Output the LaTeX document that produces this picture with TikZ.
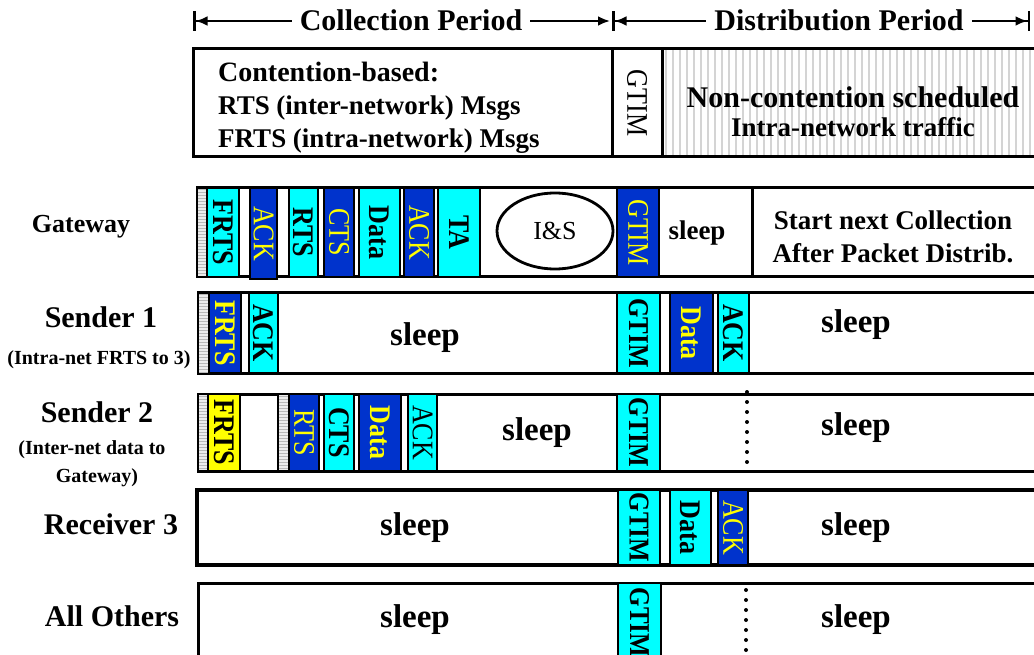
\documentclass[tikz,border=0pt]{standalone}
\usepackage{fontspec}
\setmainfont{Liberation Serif}
\usetikzlibrary{arrows.meta,shapes.geometric,patterns}

\definecolor{slotcyan}{HTML}{00FFFF}
\definecolor{slotblue}{HTML}{0033CC}
\definecolor{slotyellow}{HTML}{FFFF00}
\definecolor{stripegray}{gray}{0.83}

% a framed time slot spanning x1..x2, y1..y2, with its rotated label
% #1 name, #2 cell style, #3 x1, #4 x2, #5 y1, #6 y2, #7 label style, #8 label
\newcommand\slotcell[8]{%
  \node[#2, minimum width={(#4)-(#3)}, minimum height={(#6)-(#5)}] (#1)
    at ({((#3)+(#4))/2},{((#5)+(#6))/2}) {};
  \node[#7] (#1-txt) at (#1.center) {#8};}

% grey preamble strip with fine horizontal lines
\newcommand\hatchstrip[4]{%
  \fill[gray!15] (#1,#3) rectangle (#2,#4);
  \fill[pattern=horizontal lines, pattern color=gray!55] (#1,#3) rectangle (#2,#4);}

\tikzset{
  rowframe/.style={draw, line width=3pt, fill=white},
  cellbase/.style={draw, line width=2.8pt, inner sep=0pt, outer sep=0pt},
  cyancell/.style={cellbase, fill=slotcyan},
  bluecell/.style={cellbase, fill=slotblue},
  yellowcell/.style={cellbase, fill=slotyellow},
  vturn/.style={rotate=-90, yscale=1.15, inner sep=0pt},
  vtext/.style={vturn, font=\fontsize{26}{26}\selectfont\bfseries},
  vtextY/.style={vturn, text=slotyellow, font=\fontsize{26}{26}\selectfont},
  vtextYB/.style={vtext, text=slotyellow},
  vtextR/.style={vturn, font=\fontsize{26}{26}\selectfont},
  gtimtext/.style={vtext, font=\fontsize{25}{25}\selectfont\bfseries},
  sleeptext/.style={anchor=base, inner sep=0pt, font=\fontsize{33}{33}\selectfont\bfseries},
  rowname/.style={anchor=base, inner sep=0pt, font=\fontsize{30}{30}\selectfont\bfseries},
  rownote/.style={anchor=base, inner sep=0pt, font=\fontsize{20}{20}\selectfont\bfseries},
  periodtext/.style={anchor=base, inner xsep=8pt, inner ysep=0pt, font=\fontsize{30}{30}\selectfont\bfseries},
  periodline/.style={line width=2.5pt},
  dotline/.style={line width=4pt, line cap=round, dash pattern=on 0pt off 10pt},
  startbar/.style={{Bar[width=20pt]Latex[length=12pt,width=10pt]}-},
  endtip/.style={-{Latex[length=12pt,width=10pt]}},
  endbar/.style={-{Latex[length=12pt,width=10pt]Bar[width=20pt]}},
}

\begin{document}
\begin{tikzpicture}[x=1pt,y=-1pt]
\useasboundingbox (0,0) rectangle (1034,655);
\fill[white] (0,0) rectangle (1034,655);
\clip (0,0) rectangle (1034,655);

% ---------- period arrows ----------
\coordinate (colL) at (193,21);
\coordinate (colR) at (610,21);
\coordinate (disL) at (612,21);
\coordinate (disR) at (1030,21);
\node[periodtext] (colT) at (411,31) {Collection Period};
\node[periodtext] (disT) at (839,31) {Distribution Period};
\draw[periodline, startbar] (colL) -- (colT.west |- colL);
\draw[periodline, endtip] (colT.east |- colR) -- (colR);
\draw[periodline, startbar] (disL) -- (disT.west |- disL);
\draw[periodline, endbar] (disT.east |- disR) -- (disR);

% ---------- frame structure ----------
\foreach \x in {666,673,...,1034} \draw[stripegray, line width=2.5pt] (\x,50) -- (\x,156);
\draw[line width=3pt] (1045,49) -- (193,49) -- (193,157) -- (1045,157);
\draw[line width=3pt] (612,49) -- (612,157) (662,49) -- (662,157);
\node[anchor=base west, inner sep=0pt, font=\fontsize{28}{28}\selectfont\bfseries] (cbT) at (218,82) {Contention-based:};
\node[anchor=base west, inner sep=0pt, font=\fontsize{27}{27}\selectfont\bfseries] (rtsT) at (218,115) {RTS (inter-network) Msgs};
\node[anchor=base west, inner sep=0pt, font=\fontsize{27}{27}\selectfont\bfseries] (frtsT) at (218,148) {FRTS (intra-network) Msgs};
\node[vturn, font=\fontsize{26}{26}\selectfont] (hdGtim) at (637,103) {GTIM};
\node[anchor=base, inner sep=0pt, font=\fontsize{30}{30}\selectfont\bfseries] (ncT) at (853,108) {Non-contention scheduled};
\node[anchor=base, inner sep=0pt, font=\fontsize{27}{27}\selectfont\bfseries] (itT) at (853,137) {Intra-network traffic};

% ---------- Gateway ----------
\node[anchor=base, inner sep=0pt, font=\fontsize{26}{26}\selectfont\bfseries] (gwName) at (81,233) {Gateway};
\draw[rowframe] (197,188) rectangle (1045,277);
\hatchstrip{198}{207}{189}{276}
\slotcell{gwFrts}{cyancell}{207}{239}{188}{277}{vtext}{FRTS}
\slotcell{gwAck}{bluecell}{250}{277}{188}{279}{vtextY}{ACK}
\slotcell{gwRts}{cyancell}{289}{318}{188}{277}{vtext}{RTS}
\slotcell{gwCts}{bluecell}{324}{354}{188}{277}{vtextY}{CTS}
\slotcell{gwData}{cyancell}{359}{400}{188}{277}{vtext}{Data}
\slotcell{gwAckB}{bluecell}{404}{434}{188}{277}{vtextY}{ACK}
\slotcell{gwTa}{cyancell}{438}{480}{188}{277}{vtext}{TA}
\node[ellipse, draw, line width=2.8pt, minimum width=116pt, minimum height=76pt, inner sep=0pt,
      font=\fontsize{26}{26}\selectfont] (gwIS) at (555,231) {I\&S};
\slotcell{gwGtim}{bluecell}{617}{659}{188}{277}{vtextY}{GTIM}
\node[anchor=base, inner sep=0pt, font=\fontsize{27}{27}\selectfont\bfseries] (gwSleep) at (697,240) {sleep};
\draw[line width=3pt] (752,188) -- (752,277);
\node[anchor=base, inner sep=0pt, font=\fontsize{27}{27}\selectfont\bfseries] (gwNextA) at (893,230) {Start next Collection};
\node[anchor=base, inner sep=0pt, font=\fontsize{27}{27}\selectfont\bfseries] (gwNextB) at (893,262) {After Packet Distrib.};

% ---------- Sender 1 ----------
\node[rowname] (s1Name) at (101,327) {Sender 1};
\node[rownote] (s1Note) at (99,364) {(Intra-net FRTS to 3)};
\draw[rowframe] (198,293) rectangle (1045,373);
\hatchstrip{199}{208}{294}{372}
\slotcell{s1Frts}{bluecell}{209}{241}{293}{373}{vtextYB}{FRTS}
\slotcell{s1Ack}{cyancell}{249}{278}{293}{373}{vtext}{ACK}
\node[sleeptext] (s1SleepA) at (425,345) {sleep};
\slotcell{s1Gtim}{cyancell}{617}{660}{293}{373}{gtimtext}{GTIM}
\slotcell{s1Data}{bluecell}{670}{713}{293}{373}{vtextYB}{Data}
\slotcell{s1AckB}{cyancell}{718}{749}{293}{373}{vtext}{ACK}
\node[sleeptext] (s1SleepB) at (856,332) {sleep};

% ---------- Sender 2 ----------
\node[rowname] (s2Name) at (97,422) {Sender 2};
\node[rownote] (s2NoteA) at (92,454) {(Inter-net data to};
\node[rownote] (s2NoteB) at (97,482) {Gateway)};
\draw[rowframe] (198,394) rectangle (1045,471);
\hatchstrip{199}{208}{395}{470}
\slotcell{s2Frts}{yellowcell}{208}{240}{394}{471}{vtext}{FRTS}
\hatchstrip{279}{289}{395}{470}
\draw[cellbase] (278,394) rectangle (290,471);
\slotcell{s2Rts}{bluecell}{289}{319}{394}{471}{vtextY}{RTS}
\slotcell{s2Cts}{cyancell}{324}{354}{394}{471}{vtext}{CTS}
\slotcell{s2Data}{bluecell}{359}{401}{394}{471}{vtextYB}{Data}
\slotcell{s2Ack}{cyancell}{408}{437}{394}{471}{vtextR}{ACK}
\node[sleeptext] (s2SleepA) at (537,440) {sleep};
\slotcell{s2Gtim}{cyancell}{617}{660}{394}{471}{gtimtext}{GTIM}
\coordinate (s2DotTop) at (747,392);
\coordinate (s2DotBot) at (747,466);
\draw[dotline] (s2DotTop) -- (s2DotBot);
\node[sleeptext] (s2SleepB) at (856,435) {sleep};

% ---------- Receiver 3 ----------
\node[rowname] (r3Name) at (111,534) {Receiver 3};
\draw[rowframe, line width=4pt] (197,490) rectangle (1045,565);
\node[sleeptext] (r3SleepA) at (415,535) {sleep};
\slotcell{r3Gtim}{cyancell}{618}{660}{490}{565}{gtimtext}{GTIM}
\slotcell{r3Data}{cyancell}{670}{711}{490}{565}{vtext}{Data}
\slotcell{r3Ack}{bluecell}{718}{748}{490}{565}{vtextY}{ACK}
\node[sleeptext] (r3SleepB) at (856,535) {sleep};

% ---------- All Others ----------
\node[rowname] (aoName) at (112,626) {All Others};
\draw[rowframe] (198,583) rectangle (1045,656);
\node[sleeptext] (aoSleepA) at (415,627) {sleep};
\slotcell{aoGtim}{cyancell}{618}{661}{583}{662}{gtimtext}{GTIM}
\coordinate (aoDotTop) at (746,590);
\coordinate (aoDotBot) at (746,660);
\draw[dotline] (aoDotTop) -- (aoDotBot);
\node[sleeptext] (aoSleepB) at (856,627) {sleep};
\end{tikzpicture}
\end{document}
